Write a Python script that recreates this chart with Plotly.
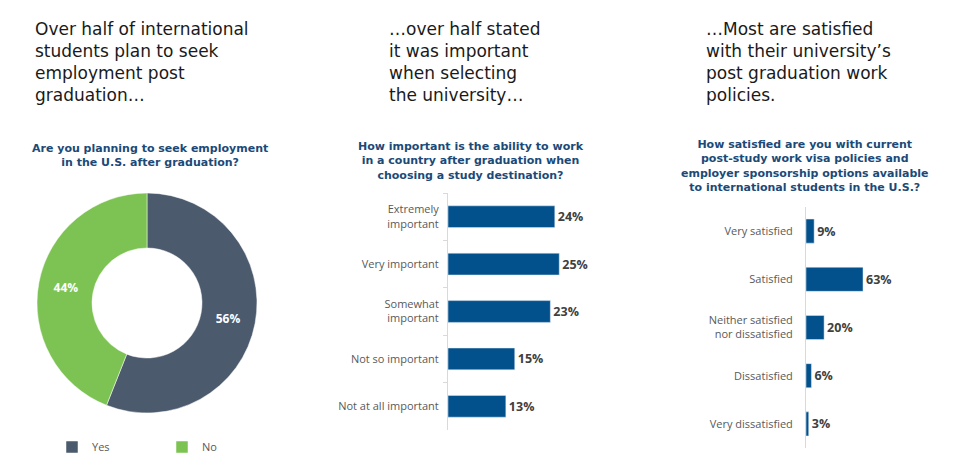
import plotly.graph_objects as go

# ---------------- data ----------------
pie_labels = ["Yes", "No"]
pie_values = [56, 44]

imp_categories = ["Extremely<br>important", "Very important", "Somewhat<br>important",
                  "Not so important", "Not at all important"]
imp_values = [24, 25, 23, 15, 13]

sat_categories = ["Very satisfied", "Satisfied", "Neither satisfied<br>nor dissatisfied",
                  "Dissatisfied", "Very dissatisfied"]
sat_values = [9, 63, 20, 6, 3]

headline1 = ["Over half of international", "students plan to seek", "employment post", "graduation…"]
headline2 = ["…over half stated", "it was important", "when selecting", "the university…"]
headline3 = ["…Most are satisfied", "with their university’s", "post graduation work", "policies."]

question1 = "Are you planning to seek employment<br>in the U.S. after graduation?"
question2 = "How important is the ability to work<br>in a country after graduation when<br>choosing a study destination?"
question3 = ("How satisfied are you with current<br>post-study work visa policies and<br>"
             "employer sponsorship options available<br>to international students in the U.S.?")

# ---------------- style ----------------
W, H = 954, 475
FONT = "Open Sans"
HFONT = "DejaVu Sans"
BAR = "#03518C"
NAVY = "#1B4A78"
LABEL = "#595959"
VALUE = "#404040"
AXIS = "#D9D9D9"


def px(xp):
    return xp / W


def py(yp):
    return 1 - yp / H


fig = go.Figure()

fig.add_trace(go.Pie(
    labels=pie_labels, values=pie_values, hole=0.5, sort=False, direction="clockwise",
    rotation=0, marker=dict(colors=["#4B5A6D", "#7DC353"], line=dict(color="white", width=0.5)),
    texttemplate="%{value}%", textposition="inside", insidetextorientation="horizontal",
    textfont=dict(color="white", size=12, family=FONT, weight="bold"),
    domain=dict(x=[px(37), px(257)], y=[py(413), py(193)]),
    showlegend=True,
))

fig.add_trace(go.Bar(
    x=imp_values, y=imp_categories, orientation="h", marker_color=BAR, width=0.46,
    texttemplate="%{x}%", textposition="outside", cliponaxis=False,
    textfont=dict(color=VALUE, size=12.5, family=FONT, weight="bold"),
    xaxis="x", yaxis="y", showlegend=False,
))

fig.add_trace(go.Bar(
    x=sat_values, y=sat_categories, orientation="h", marker_color=BAR, width=0.5,
    texttemplate="%{x}%", textposition="outside", cliponaxis=False,
    textfont=dict(color=VALUE, size=12.5, family=FONT, weight="bold"),
    xaxis="x2", yaxis="y2", showlegend=False,
))

annotations = []
for lines, x0 in [(headline1, 34), (headline2, 388), (headline3, 705)]:
    annotations.append(dict(
        text="<br>".join(lines), x=px(x0), y=py(18), xref="paper", yref="paper",
        xanchor="left", yanchor="top", showarrow=False, align="left", borderpad=0,
        font=dict(family=HFONT, size=17, color="#1A1A1A"),
    ))
for q, xc, yc in [(question1, 150, 155), (question2, 471, 161), (question3, 805, 166)]:
    annotations.append(dict(
        text=q, x=px(xc), y=py(yc), xref="paper", yref="paper",
        xanchor="center", yanchor="middle", showarrow=False, align="center",
        font=dict(family=HFONT, size=11, color=NAVY, weight="bold"),
    ))

fig.update_layout(
    width=W, height=H, margin=dict(l=0, r=0, t=0, b=0),
    paper_bgcolor="white", plot_bgcolor="white",
    font=dict(family=FONT, color=LABEL),
    xaxis=dict(domain=[px(448), px(448 + 30 * 4.45)], range=[0, 30], visible=False),
    yaxis=dict(domain=[py(430), py(193)], anchor="x", autorange="reversed",
               showline=True, linecolor=AXIS, linewidth=1,
               ticks="outside", tickson="boundaries", ticklen=4, tickcolor=AXIS,
               ticklabelstandoff=6, tickfont=dict(size=11, color=LABEL, family=FONT),
               showgrid=False),
    xaxis2=dict(domain=[px(806), px(806 + 100 * 0.905)], range=[0, 100], visible=False,
                anchor="y2"),
    yaxis2=dict(domain=[py(448), py(207)], anchor="x2", autorange="reversed",
                showline=True, linecolor=AXIS, linewidth=1, ticks="",
                ticklabelstandoff=10, tickfont=dict(size=11, color=LABEL, family=FONT),
                showgrid=False),
    legend=dict(orientation="h", x=px(52), y=py(447), xanchor="left", yanchor="middle",
                entrywidth=65, font=dict(size=11, color=LABEL, family=FONT),
                itemclick=False),
    annotations=annotations,
)

fig.write_html("out.html", config={"displayModeBar": False},
               post_script="document.body.style.margin='0';")
